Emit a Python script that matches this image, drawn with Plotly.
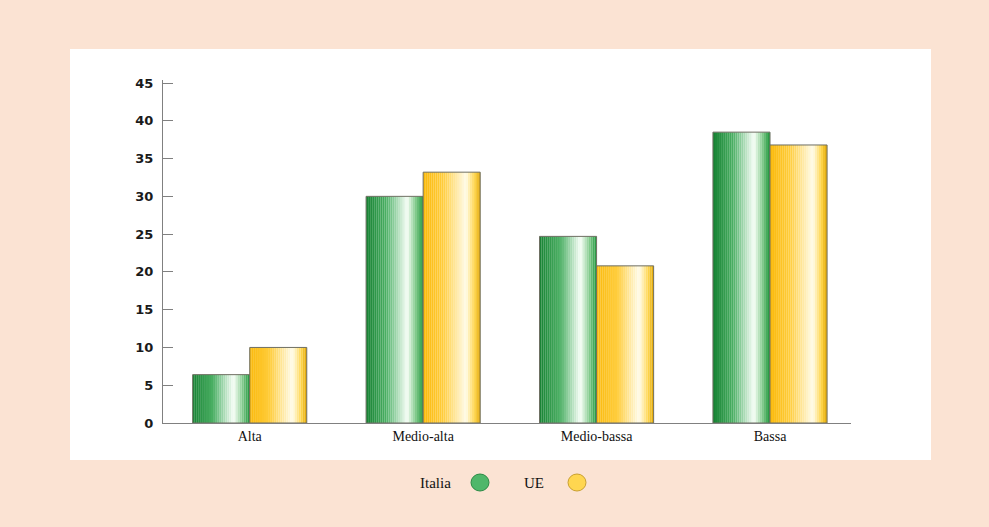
import plotly.graph_objects as go

# Data
categories = ["Alta", "Medio-alta", "Medio-bassa", "Bassa"]
italia = [6.4, 30.0, 24.7, 38.5]
ue = [10.0, 33.2, 20.8, 36.8]
y_ticks = [0, 5, 10, 15, 20, 25, 30, 35, 40, 45]

BAR_W = 0.329   # width of one bar, in category units
N_SLICES = 28   # vertical strips used to shade each bar


def lerp(c1, c2, t):
    return tuple(round(a + (b - a) * t) for a, b in zip(c1, c2))


def gradient(stops, t):
    for (p0, c0), (p1, c1) in zip(stops, stops[1:]):
        if p0 <= t <= p1:
            return lerp(c0, c1, (t - p0) / (p1 - p0) if p1 > p0 else 0)
    return stops[-1][1]


green_stops = [(0.0, (22, 130, 50)), (0.35, (75, 175, 100)), (0.72, (248, 255, 248)),
               (0.88, (125, 200, 135)), (1.0, (30, 150, 60))]
yellow_stops = [(0.0, (250, 185, 10)), (0.35, (255, 205, 60)), (0.75, (255, 252, 235)),
                (0.9, (255, 215, 80)), (1.0, (225, 165, 0))]

fig = go.Figure()


def add_shaded_bars(values, offset, stops, name):
    sw = BAR_W / N_SLICES
    for i in range(N_SLICES):
        r, g, b = gradient(stops, (i + 0.5) / N_SLICES)
        fig.add_trace(go.Bar(
            x=categories, y=values, width=sw * 1.02, offset=offset + i * sw,
            marker=dict(color=f"rgb({r},{g},{b})", line=dict(width=0)),
            showlegend=False, hoverinfo="skip",
        ))
    # outline on top
    fig.add_trace(go.Bar(
        x=categories, y=values, width=BAR_W, offset=offset, name=name,
        marker=dict(color="rgba(0,0,0,0)", line=dict(color="#6f6f62", width=1)),
        showlegend=False,
    ))


add_shaded_bars(italia, -BAR_W, green_stops, "Italia")
add_shaded_bars(ue, 0.0, yellow_stops, "UE")

L, R, T, B = 163, 989 - 851, 80, 527 - 423
pw, ph = 989 - L - R, 527 - T - B


def px_x(x):
    return (x - L) / pw


def px_y(y):
    return (527 - B - y) / ph


shapes = [
    # white panel
    dict(type="rect", xref="paper", yref="paper", layer="below",
         x0=px_x(70), x1=px_x(931), y0=px_y(460), y1=px_y(49),
         fillcolor="white", line=dict(width=0)),
    # legend swatches
    dict(type="circle", xref="paper", yref="paper",
         x0=px_x(471), x1=px_x(489), y0=px_y(491), y1=px_y(474),
         fillcolor="#4fb76a", line=dict(color="#2a8a45", width=1)),
    dict(type="circle", xref="paper", yref="paper",
         x0=px_x(568), x1=px_x(586), y0=px_y(491), y1=px_y(474),
         fillcolor="#ffd650", line=dict(color="#c9a030", width=1)),
]

annotations = [
    dict(text="Italia", xref="paper", yref="paper", x=px_x(435), y=px_y(483),
         xanchor="center", yanchor="middle", showarrow=False,
         font=dict(family="Liberation Serif", size=15, color="#111")),
    dict(text="UE", xref="paper", yref="paper", x=px_x(534), y=px_y(483),
         xanchor="center", yanchor="middle", showarrow=False,
         font=dict(family="Liberation Serif", size=15, color="#111")),
]

fig.update_layout(
    width=989, height=527,
    margin=dict(l=L, r=R, t=T, b=B),
    paper_bgcolor="#fbe3d3",
    plot_bgcolor="rgba(0,0,0,0)",
    barmode="overlay",
    showlegend=False,
    shapes=shapes,
    annotations=annotations,
    xaxis=dict(
        range=[-0.5, 3.467], showgrid=False, zeroline=False,
        showline=True, linecolor="#808080", linewidth=1, ticks="",
        tickfont=dict(family="Liberation Serif", size=14, color="#111"),
    ),
    yaxis=dict(
        range=[0, 45.4], tickvals=y_ticks, showgrid=False, zeroline=False,
        showline=True, linecolor="#808080", linewidth=1,
        ticks="inside", ticklen=10, tickcolor="#808080",
        tickfont=dict(family="DejaVu Sans", size=13, color="#1a1a1a", weight=600),
        ticklabelstandoff=6,
    ),
)

fig.write_html("out.html")
